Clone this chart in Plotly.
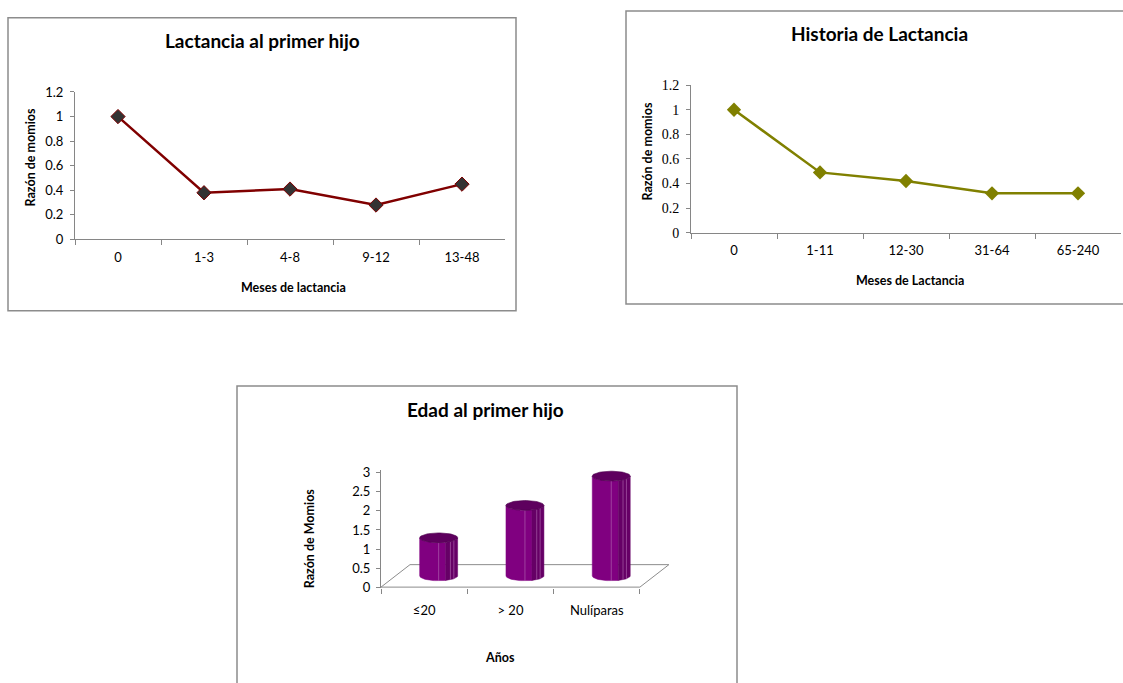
import numpy as np
import plotly.graph_objects as go

# ---------------- data ----------------
cat1 = ["0", "1-3", "4-8", "9-12", "13-48"]
val1 = [1.0, 0.38, 0.41, 0.28, 0.45]

cat2 = ["0", "1-11", "12-30", "31-64", "65-240"]
val2 = [1.0, 0.49, 0.42, 0.32, 0.32]

cat3 = ["≤20", "> 20", "Nulíparas"]
val3 = [1.0, 1.85, 2.62]

y_ticks12 = [0, 0.2, 0.4, 0.6, 0.8, 1.0, 1.2]
y_ticks3 = [0, 0.5, 1, 1.5, 2, 2.5, 3]

# ---------------- layout helpers ----------------
W, H = 1123, 683
SANS = "Lato, 'Open Sans', sans-serif"
SERIF = "'Liberation Serif', 'DejaVu Serif', serif"
AX = "#868686"


def px(x):
    return x / W


def py(y):
    return 1 - y / H


fig = go.Figure()

# Panel 1 line
fig.add_trace(go.Scatter(
    x=cat1, y=val1, mode="lines+markers", xaxis="x", yaxis="y",
    line=dict(color="#800000", width=2.5),
    marker=dict(symbol="diamond", size=11, color="#333333",
                line=dict(color="#7f0000", width=1)),
    showlegend=False, hoverinfo="skip"))

# Panel 2 line
fig.add_trace(go.Scatter(
    x=cat2, y=val2, mode="lines+markers", xaxis="x2", yaxis="y2",
    line=dict(color="#808000", width=2.5),
    marker=dict(symbol="diamond", size=11, color="#808000"),
    showlegend=False, hoverinfo="skip"))

# Panel 3: pseudo-3D cylinder chart
n3 = len(cat3)
DX, DY = 0.336, 0.59      # depth offset of floor (x units, y units)
HW, EY = 0.22, 0.128      # cylinder half-width, ellipse semi-axis (y units)

floor_x = [0, n3, n3 + DX, DX, 0]
floor_y = [0, 0, DY, DY, 0]
fig.add_trace(go.Scatter(x=floor_x, y=floor_y, mode="lines", xaxis="x3", yaxis="y3",
                         line=dict(color="#8c8c8c", width=1),
                         showlegend=False, hoverinfo="skip"))

for i, v in enumerate(val3):
    cx = i + 0.5 + DX / 2
    base = DY / 2
    top = base + v
    for (t0, t1, col) in [(np.pi, 1.62 * np.pi, "#800080"), (1.62 * np.pi, 2 * np.pi, "#660066")]:
        t = np.linspace(t0, t1, 30)
        bx = cx + HW * np.cos(t)
        by = base + EY * np.sin(t)
        tx = bx[::-1]
        ty = top + EY * np.sin(t[::-1])
        xs = np.concatenate([bx, tx, bx[:1]])
        ys = np.concatenate([by, ty, by[:1]])
        fig.add_trace(go.Scatter(x=xs, y=ys, mode="lines", fill="toself", fillcolor=col,
                                 line=dict(color=col, width=0.5), xaxis="x3", yaxis="y3",
                                 showlegend=False, hoverinfo="skip"))
    # light highlight stripes on the body
    for f in [0.0, 0.62, 0.8]:
        sx = cx + HW * f
        s_off = EY * np.sqrt(max(0.0, 1 - f * f))
        fig.add_trace(go.Scatter(x=[sx, sx], y=[base - s_off, top - s_off], mode="lines",
                                 line=dict(color="#b36bb3", width=0.6), xaxis="x3", yaxis="y3",
                                 showlegend=False, hoverinfo="skip"))
    # top ellipse
    t = np.linspace(0, 2 * np.pi, 60)
    fig.add_trace(go.Scatter(x=cx + HW * np.cos(t), y=top + EY * np.sin(t), mode="lines",
                             fill="toself", fillcolor="#5e005e",
                             line=dict(color="#4d004d", width=0.6), xaxis="x3", yaxis="y3",
                             showlegend=False, hoverinfo="skip"))

# ---------------- axes ----------------
p1 = dict(x0=75, x1=505, y0=237, y1=86)
p2 = dict(x0=691, x1=1121, y0=230, y1=79)
UX3, UY3 = 86.3, 39.0
X3_0, Y3_0 = 381, 593
x3_range = [0, n3 + 0.4]
y3_range = [-0.03, 3.08]

tickfont = dict(family=SANS, size=13, color="#000")

common_x = dict(type="category", tickson="boundaries", ticks="outside", ticklen=5,
                tickcolor=AX, showline=True, linecolor=AX, linewidth=1, showgrid=False,
                zeroline=False, range=[-0.5, 4.5], tickfont=tickfont, ticklabelstandoff=6,
                fixedrange=True)

fig.update_layout(
    xaxis=dict(domain=[px(p1["x0"]), px(p1["x1"])], anchor="y", **common_x),
    yaxis=dict(domain=[py(p1["y0"]), py(p1["y1"])], anchor="x", range=[0, 1.2],
               tickvals=y_ticks12, ticktext=[f"{v:g}" for v in y_ticks12],
               ticks="outside", ticklen=4, tickcolor=AX, showline=True, linecolor=AX,
               showgrid=False, zeroline=False, tickfont=tickfont, ticklabelstandoff=4),
    xaxis2=dict(domain=[px(p2["x0"]), px(p2["x1"])], anchor="y2", **common_x),
    yaxis2=dict(domain=[py(p2["y0"]), py(p2["y1"])], anchor="x2", range=[0, 1.2],
                tickvals=y_ticks12, ticktext=[f"{v:g}" for v in y_ticks12],
                ticks="outside", ticklen=4, tickcolor=AX, showline=True, linecolor=AX,
                showgrid=False, zeroline=False,
                tickfont=dict(family=SERIF, size=14, color="#000"), ticklabelstandoff=4),
    xaxis3=dict(domain=[px(X3_0), px(X3_0 + UX3 * x3_range[1])], anchor="y3",
                range=x3_range, showline=False, showgrid=False, zeroline=False,
                tickvals=[i + 0.5 for i in range(n3)], ticktext=cat3,
                ticks="outside", ticklen=10, tickcolor="rgba(0,0,0,0)",
                tickfont=tickfont,
                minor=dict(tickvals=list(range(n3 + 1)), ticks="outside", ticklen=5,
                           tickcolor=AX, showgrid=False),
                fixedrange=True),
    yaxis3=dict(domain=[py(Y3_0 - UY3 * y3_range[0]), py(Y3_0 - UY3 * y3_range[1])],
                anchor="x3", range=y3_range, tickvals=y_ticks3,
                ticktext=[f"{v:g}" for v in y_ticks3],
                ticks="outside", ticklen=4, tickcolor=AX, showline=True, linecolor=AX,
                showgrid=False, zeroline=False, tickfont=tickfont, ticklabelstandoff=3),
)

# ---------------- frames and texts ----------------
shapes = []
for (x0, y0, x1, y1) in [(8, 10, 516, 310), (626, 3, 1135, 303), (237, 387, 737, 700)]:
    shapes.append(dict(type="rect", xref="paper", yref="paper",
                       x0=px(x0), x1=px(x1), y0=py(y1), y1=py(y0),
                       line=dict(color="#8c8c8c", width=1.5), fillcolor="rgba(0,0,0,0)",
                       layer="below"))

annotations = []


def ann(text, x, y, size, bold=True, angle=0):
    annotations.append(dict(text=f"<b>{text}</b>" if bold else text, x=px(x), y=py(y),
                            xref="paper", yref="paper", showarrow=False,
                            xanchor="center", yanchor="middle", textangle=angle,
                            font=dict(family=SANS, size=size, color="#000")))


ann("Lactancia al primer hijo", 262, 33, 19)
ann("Razón de momios", 30, 153, 12.5, angle=-90)
ann("Meses de lactancia", 293, 286, 12.5)

ann("Historia de Lactancia", 879, 26, 19)
ann("Razón de momios", 648, 147, 12.5, angle=-90)
ann("Meses de Lactancia", 910, 279, 12.5)

ann("Edad al primer hijo", 485, 411, 19)
ann("Razón de Momios", 309, 543, 12.5, angle=-90)
ann("Años", 500, 665, 12.5)

fig.update_layout(
    width=W, height=H, margin=dict(l=0, r=0, t=0, b=0),
    paper_bgcolor="white", plot_bgcolor="rgba(0,0,0,0)",
    shapes=shapes, annotations=annotations, showlegend=False,
)

fig.write_html("out.html", post_script="document.body.style.margin='0';",
               config={"displayModeBar": False})
